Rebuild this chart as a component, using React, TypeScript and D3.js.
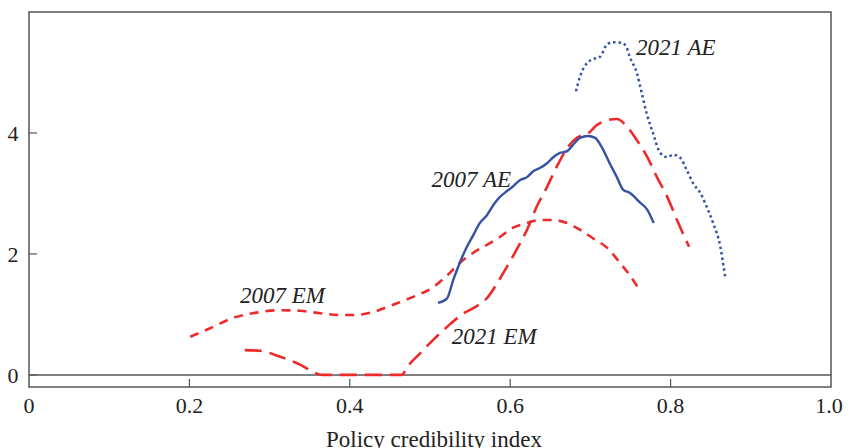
import React from "react";
import * as d3 from "d3";

const xTicks = [0, 0.2, 0.4, 0.6, 0.8, 1.0];
const xTickLabels = ["0", "0.2", "0.4", "0.6", "0.8", "1.0"];
const yTicks = [0, 2, 4];

const ae2021X = [0.682, 0.687, 0.696, 0.703, 0.712, 0.721, 0.728, 0.739, 0.745, 0.749, 0.758, 0.764, 0.770, 0.778, 0.787, 0.796, 0.803, 0.812, 0.820, 0.828, 0.837, 0.845, 0.853, 0.862, 0.868];
const ae2021Y = [4.69, 4.93, 5.16, 5.22, 5.26, 5.47, 5.50, 5.49, 5.42, 5.26, 4.99, 4.66, 4.33, 4.00, 3.67, 3.60, 3.64, 3.59, 3.39, 3.17, 3.01, 2.78, 2.51, 2.12, 1.62];

const ae2007X = [0.510, 0.521, 0.529, 0.537, 0.546, 0.554, 0.562, 0.571, 0.579, 0.587, 0.596, 0.603, 0.612, 0.621, 0.628, 0.637, 0.646, 0.653, 0.662, 0.671, 0.678, 0.687, 0.697, 0.706, 0.714, 0.724, 0.733, 0.741, 0.749, 0.761, 0.771, 0.779];
const ae2007Y = [1.19, 1.26, 1.57, 1.85, 2.12, 2.31, 2.51, 2.64, 2.81, 2.94, 3.04, 3.11, 3.22, 3.27, 3.36, 3.42, 3.50, 3.59, 3.67, 3.70, 3.80, 3.92, 3.95, 3.92, 3.77, 3.50, 3.27, 3.06, 3.01, 2.86, 2.73, 2.51];

const em2007X = [0.201, 0.229, 0.254, 0.279, 0.313, 0.338, 0.363, 0.388, 0.404, 0.429, 0.454, 0.479, 0.504, 0.521, 0.537, 0.554, 0.571, 0.587, 0.603, 0.621, 0.637, 0.653, 0.671, 0.687, 0.703, 0.721, 0.737, 0.749, 0.759];
const em2007Y = [0.63, 0.79, 0.94, 1.02, 1.07, 1.06, 1.02, 0.99, 0.99, 1.04, 1.16, 1.29, 1.45, 1.64, 1.85, 2.02, 2.15, 2.28, 2.43, 2.51, 2.56, 2.56, 2.51, 2.40, 2.26, 2.10, 1.85, 1.65, 1.45];

const em2021X = [0.269, 0.288, 0.313, 0.338, 0.354, 0.365, 0.465, 0.471, 0.488, 0.504, 0.521, 0.541, 0.556, 0.571, 0.584, 0.596, 0.608, 0.621, 0.633, 0.646, 0.658, 0.671, 0.683, 0.696, 0.708, 0.721, 0.733, 0.746, 0.758, 0.771, 0.783, 0.796, 0.808, 0.823];
const em2021Y = [0.41, 0.40, 0.30, 0.17, 0.05, 0.0, 0.0, 0.12, 0.36, 0.58, 0.79, 1.01, 1.12, 1.27, 1.52, 1.79, 2.07, 2.40, 2.78, 3.11, 3.44, 3.75, 3.92, 3.98, 4.13, 4.21, 4.23, 4.10, 3.88, 3.60, 3.27, 2.94, 2.56, 2.12];

const labelNames = ["2021 AE", "2007 AE", "2007 EM", "2021 EM"];
const labelX = [0.757, 0.502, 0.263, 0.527];
const labelY = [5.29, 3.11, 1.19, 0.51];

const BLUE = "#3552a3";
const RED = "#ee2a2a";
const AXIS = "#555";
const TEXT = "#222";
const FONT = "'Liberation Serif', 'Times New Roman', serif";

export default function App() {
  const W = 848, H = 448;
  const L = 29, R = 831, T = 12, B = 387;
  const x = d3.scaleLinear().domain([0, 1]).range([L, R]);
  const y = d3.scaleLinear().domain([-0.2, 6.0]).range([B, T]);
  const line = d3.line<[number, number]>().x(d => x(d[0])).y(d => y(d[1])).curve(d3.curveMonotoneX);
  const pts = (xs: number[], ys: number[]) => xs.map((v, i) => [v, ys[i]] as [number, number]);

  const series = [
    { d: pts(em2007X, em2007Y), color: RED, dash: "9 7", w: 2.6 },
    { d: pts(em2021X, em2021Y), color: RED, dash: "17 8", w: 2.6 },
    { d: pts(ae2007X, ae2007Y), color: BLUE, dash: undefined, w: 2.4 },
    { d: pts(ae2021X, ae2021Y), color: BLUE, dash: "2.5 3", w: 2.5 },
  ];

  return (
    <svg width={W} height={H} style={{ position: "absolute", left: 0, top: 0 }}>
      <rect x={0} y={0} width={W} height={H} fill="#fff" />
      <line x1={L} x2={R} y1={y(0)} y2={y(0)} stroke={AXIS} strokeWidth={1.5} />
      {yTicks.map(t => (
        <g key={"y" + t}>
          <line x1={L} x2={L + 8} y1={y(t)} y2={y(t)} stroke={AXIS} strokeWidth={1.2} />
          <text x={13} y={y(t)} dy="0.35em" textAnchor="middle" fontFamily={FONT} fontSize={22} fill={TEXT}>{t}</text>
        </g>
      ))}
      {xTicks.map((t, i) => (
        <g key={"x" + t}>
          {t > 0 && t < 1 && <line x1={x(t)} x2={x(t)} y1={B} y2={B - 8} stroke={AXIS} strokeWidth={1.2} />}
          <text x={i === 5 ? x(t) - 2 : x(t)} y={413} textAnchor="middle" fontFamily={FONT} fontSize={22} fill={TEXT}>{xTickLabels[i]}</text>
        </g>
      ))}
      <text x={434} y={447} textAnchor="middle" fontFamily={FONT} fontSize={23} fill={TEXT}>Policy credibility index</text>
      {series.map((s, i) => (
        <path key={i} d={line(s.d) || ""} fill="none" stroke={s.color} strokeWidth={s.w} strokeDasharray={s.dash} strokeLinejoin="round" />
      ))}
      {labelNames.map((n, i) => (
        <text key={n} x={x(labelX[i])} y={y(labelY[i])} textAnchor="start" fontFamily={FONT} fontStyle="italic" fontSize={23} fill={TEXT}>{n}</text>
      ))}
      <rect x={L} y={T} width={R - L} height={B - T} fill="none" stroke={AXIS} strokeWidth={1.5} />
    </svg>
  );
}
